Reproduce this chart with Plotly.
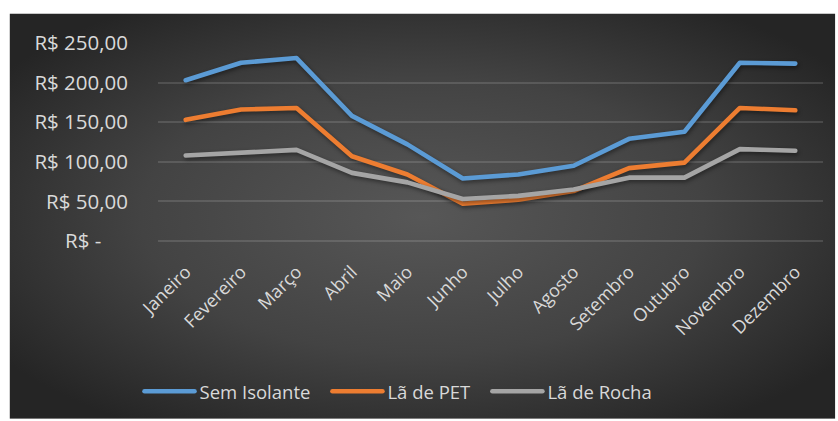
import base64
import plotly.graph_objects as go

# Monthly cost by insulation type (R$)
meses = ["Janeiro", "Fevereiro", "Março", "Abril", "Maio", "Junho",
         "Julho", "Agosto", "Setembro", "Outubro", "Novembro", "Dezembro"]
sem_isolante = [203, 225, 231, 158, 122, 79, 84, 95, 129, 138, 225, 224]
la_de_pet = [153, 166, 168, 107, 84, 47, 52, 63, 92, 99, 168, 165]
la_de_rocha = [108, 112, 115, 86, 74, 53, 57, 65, 80, 80, 116, 114]

y_ticks = [0, 50, 100, 150, 200, 250]
y_labels = ["R$ -" + "\u00a0" * 5, "R$ 50,00", "R$ 100,00", "R$ 150,00",
            "R$ 200,00", "R$ 250,00"]

W, H = 838, 421
M_L, M_R, M_T, M_B = 157.5, 15.3, 42.7, 179
PW, PH = W - M_L - M_R, H - M_T - M_B

# dark radial-gradient chart panel
svg = """<svg xmlns='http://www.w3.org/2000/svg' width='826' height='408' viewBox='0 0 826 408' preserveAspectRatio='none'>
<defs><radialGradient id='g' cx='50%' cy='50%' r='62%'>
<stop offset='0%' stop-color='#575757'/>
<stop offset='55%' stop-color='#434343'/>
<stop offset='100%' stop-color='#252525'/>
</radialGradient></defs>
<rect width='826' height='408' fill='url(#g)'/></svg>"""
src = "data:image/svg+xml;base64," + base64.b64encode(svg.encode()).decode()

panel_x0, panel_y0, panel_x1, panel_y1 = 9, 13, 835, 421

FONT = "Open Sans"
TXT = "#d9d9d9"
GRID = "rgba(255,255,255,0.13)"

# (name, values, colour, legend id, left pixel of the legend swatch)
series = [("Sem Isolante", sem_isolante, "#5B9BD5", "legend", 144),
          ("Lã de PET", la_de_pet, "#ED7D31", "legend2", 332),
          ("Lã de Rocha", la_de_rocha, "#A5A5A5", "legend3", 492)]

fig = go.Figure()
legends = {}
for name, vals, color, leg, px in series:
    fig.add_trace(go.Scatter(x=meses, y=vals, name=name, mode="lines",
                             line=dict(color=color, width=4.6), legend=leg))
    legends[leg] = dict(orientation="h", x=(px - 5 - M_L) / PW, xanchor="left",
                        y=(M_T + PH - 392) / PH, yanchor="middle",
                        font=dict(size=18.5, color=TXT),
                        bgcolor="rgba(0,0,0,0)", itemwidth=50)

fig.update_layout(
    width=W, height=H,
    margin=dict(l=M_L, r=M_R, t=M_T, b=M_B, pad=0),
    paper_bgcolor="white",
    plot_bgcolor="rgba(0,0,0,0)",
    font=dict(family=FONT, color=TXT),
    showlegend=True,
    images=[dict(source=src, xref="paper", yref="paper",
                 x=(panel_x0 - M_L) / PW, y=(M_T + PH - panel_y0) / PH,
                 sizex=(panel_x1 - panel_x0) / PW, sizey=(panel_y1 - panel_y0) / PH,
                 xanchor="left", yanchor="top", sizing="stretch", layer="below")],
    **legends,
)
fig.update_xaxes(type="category", range=[-0.5, 11.5], showgrid=False,
                 showline=False, zeroline=False, ticks="", tickangle=-45,
                 tickfont=dict(size=18, color=TXT), ticklabelstandoff=16)
fig.update_yaxes(range=[0, 250], tickvals=y_ticks, ticktext=y_labels,
                 showgrid=True, gridcolor=GRID, gridwidth=1.5,
                 zeroline=True, zerolinecolor=GRID, zerolinewidth=1.5,
                 showline=False, ticks="",
                 tickfont=dict(size=20.5, color=TXT), ticklabelstandoff=29)

fig.write_html("out.html", post_script="""
document.querySelectorAll('path.js-line').forEach(function(p){
  p.style.strokeLinecap='round'; p.style.strokeLinejoin='round';
});
document.querySelectorAll('.scatterlayer path.js-line').forEach(function(p){
  p.style.filter='drop-shadow(1px 2px 2px rgba(0,0,0,0.45))';
});
""")
